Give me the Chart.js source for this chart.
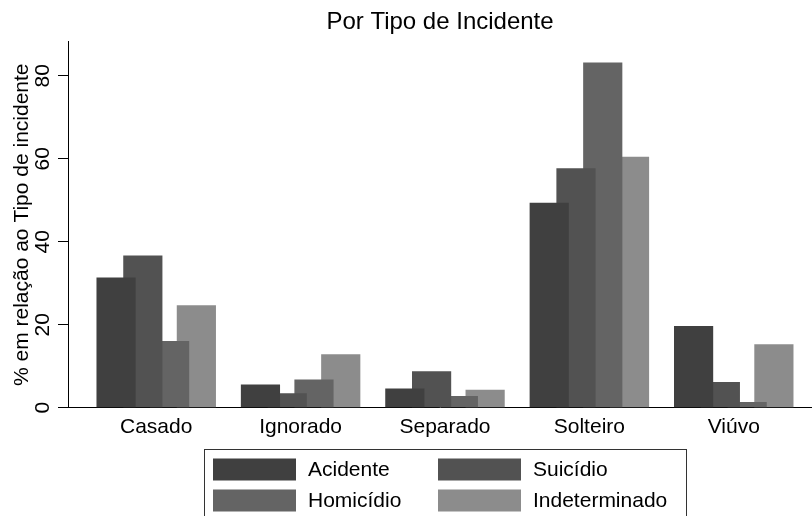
<!DOCTYPE html>
<html>
<head>
<meta charset="utf-8">
<script src="https://cdn.jsdelivr.net/npm/chart.js@4/dist/chart.umd.min.js"></script>
<style>
  html, body { margin: 0; padding: 0; background: #fff; }
  #wrap { width: 812px; height: 516px; }
</style>
</head>
<body>
<div id="wrap"><canvas id="grafico"></canvas></div>
<script>
// Dados
const categorias = ['Casado', 'Ignorado', 'Separado', 'Solteiro', 'Viúvo'];
const acidente = [31.4, 5.6, 4.6, 49.4, 19.7];
const suicidio = [36.7, 3.5, 8.8, 57.7, 6.2];
const homicidio = [16.1, 6.8, 2.8, 83.2, 1.4];
const indeterminado = [24.7, 12.9, 4.3, 60.5, 15.3];
const ticksY = [0, 20, 40, 60, 80];

const fonte = "'Liberation Sans', Arial, Helvetica, sans-serif";

const series = [
    { label: 'Acidente', valores: acidente, cor: '#404040' },
    { label: 'Suicídio', valores: suicidio, cor: '#525252' },
    { label: 'Homicídio', valores: homicidio, cor: '#646464' },
    { label: 'Indeterminado', valores: indeterminado, cor: '#8c8c8c' }
];

// Legenda em grade 2x2 com caixa, como no Stata
const legendaCaixa = {
    id: 'legendaCaixa',
    afterDraw(chart) {
        const ctx = chart.ctx;
        ctx.save();
        ctx.strokeStyle = '#333';
        ctx.lineWidth = 1;
        ctx.strokeRect(204.5, 449.5, 482, 80);
        ctx.font = '21px ' + fonte;
        ctx.textBaseline = 'middle';
        ctx.fillStyle = '#000';
        chart.data.datasets.forEach((ds, i) => {
            const col = i % 2;
            const lin = Math.floor(i / 2);
            const x = 213 + col * 225;
            const y = 458.5 + lin * 31;
            ctx.fillStyle = ds.backgroundColor;
            ctx.fillRect(x, y, 83, 22);
            ctx.fillStyle = '#000';
            ctx.fillText(ds.label, x + 95, y + 12);
        });
        ctx.restore();
    }
};

new Chart(document.getElementById('grafico').getContext('2d'), {
    type: 'bar',
    data: {
        datasets: series.map(s => ({
            label: s.label,
            data: s.valores.map((v, i) => ({ x: i, y: v })),
            backgroundColor: s.cor,
            borderWidth: 0
        }))
    },
    options: {
        responsive: true,
        maintainAspectRatio: false,
        animation: false,
        layout: { padding: 0 },
        categoryPercentage: 0.7415,
        barPercentage: 1.464,
        plugins: {
            legend: { display: false },
            tooltip: { enabled: false },
            title: {
                display: true,
                text: 'Por Tipo de Incidente',
                fullSize: false,
                color: '#000',
                font: { family: fonte, size: 24, weight: 'normal' },
                padding: { top: 8, bottom: 5 }
            }
        },
        scales: {
            x: {
                type: 'linear',
                offset: false,
                min: -0.611,
                max: 4.542,
                afterBuildTicks: s => { s.ticks = categorias.map((c, i) => ({ value: i })); },
                afterFit: s => { s.height = 108.3; },
                grid: { display: false, offset: false, drawTicks: false, tickLength: 0 },
                border: { display: true, color: '#000', width: 1 },
                ticks: {
                    color: '#000',
                    padding: 7,
                    autoSkip: false,
                    maxRotation: 0,
                    font: { family: fonte, size: 21 },
                    callback: v => categorias[v]
                }
            },
            y: {
                min: 0,
                max: 88.2,
                afterBuildTicks: s => { s.ticks = ticksY.map(v => ({ value: v })); },
                afterFit: s => { s.width = 68; },
                grid: { drawOnChartArea: false, drawTicks: true, tickLength: 10, color: '#000' },
                border: { display: true, color: '#000', width: 1 },
                ticks: {
                    color: '#000',
                    padding: 3,
                    minRotation: 90,
                    maxRotation: 90,
                    crossAlign: 'center',
                    font: { family: fonte, size: 21 }
                },
                title: {
                    display: true,
                    text: '% em relação ao Tipo de incidente',
                    color: '#000',
                    font: { family: fonte, size: 21 },
                    padding: { top: 10, bottom: 0 }
                }
            }
        }
    },
    plugins: [legendaCaixa]
});
</script>
</body>
</html>
